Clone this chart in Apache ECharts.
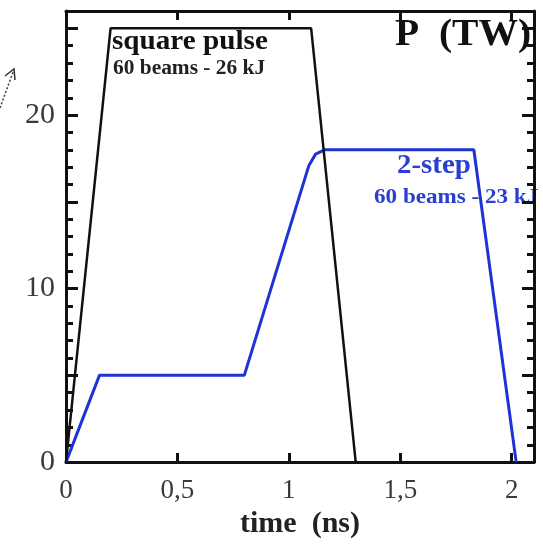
<!DOCTYPE html>
<html>
<head>
<meta charset="utf-8">
<script src="https://cdn.jsdelivr.net/npm/echarts@6/dist/echarts.min.js"></script>
<style>html,body{margin:0;padding:0;background:#fff;}#c{width:543px;height:544px;}</style>
</head>
<body>
<div id="c"></div>
<script>
// data
var squareT = [0, 0.2, 1.1, 1.3];
var squareP = [0, 25, 25, 0];
var twoStepT = [0, 0.15, 0.8, 1.09, 1.12, 1.16, 1.83, 2.02];
var twoStepP = [0, 5, 5, 17.1, 17.75, 18, 18, 0];
var xTickLabels = {0: '0', 0.5: '0,5', 1: '1', 1.5: '1,5', 2: '2'};
var yTickLabels = {0: '0', 10: '10', 20: '20'};

function pairs(xs, ys){ return xs.map(function(x,i){return [x, ys[i]];}); }

var serif = '"Liberation Serif", "DejaVu Serif", serif';
var chart = echarts.init(document.getElementById('c'));
function axisLine(){ return {show: true, onZero: false, lineStyle: {color: '#111', width: 3}}; }
var tickStyle = {color: '#111', width: 3};
chart.setOption({
  animation: false,
  backgroundColor: '#fff',
  grid: {left: 66, right: 9, top: 11, bottom: 81},
  xAxis: [{
    type: 'value', min: 0, max: 2.1, interval: 0.5, position: 'bottom',
    axisLine: axisLine(),
    axisTick: {inside: true, length: 9, lineStyle: tickStyle},
    splitLine: {show: false},
    axisLabel: {fontFamily: serif, fontSize: 27, color: '#3a3a3a', margin: 15, showMaxLabel: false,
      formatter: function(v){ var k = Math.round(v*10)/10; return xTickLabels[k] !== undefined ? xTickLabels[k] : ''; }},
    name: 'time  (ns)', nameLocation: 'middle', nameGap: 46,
    nameTextStyle: {fontFamily: serif, fontSize: 30, fontWeight: 'bold', color: '#222'}
  }, {
    type: 'value', min: 0, max: 2.1, interval: 0.5, position: 'top',
    axisLine: axisLine(),
    axisTick: {inside: true, length: 9, lineStyle: tickStyle},
    splitLine: {show: false}, axisLabel: {show: false}
  }],
  yAxis: [{
    type: 'value', min: 0, max: 26, interval: 5, position: 'left',
    axisLine: axisLine(),
    axisTick: {inside: true, length: 12, lineStyle: tickStyle},
    minorTick: {show: true, splitNumber: 5, length: 7, lineStyle: tickStyle},
    splitLine: {show: false},
    axisLabel: {fontFamily: serif, fontSize: 30, color: '#3a3a3a', margin: 11, padding: [0, 0, 10, 0],
      formatter: function(v){ return yTickLabels[v] !== undefined ? yTickLabels[v] : ''; }}
  }, {
    type: 'value', min: 0, max: 26, interval: 5, position: 'right',
    axisLine: axisLine(),
    axisTick: {inside: true, length: 12, lineStyle: tickStyle},
    minorTick: {show: true, splitNumber: 5, length: 7, lineStyle: tickStyle},
    splitLine: {show: false}, axisLabel: {show: false}
  }],
  series: [{
    name: 'square pulse', type: 'line', data: pairs(squareT, squareP),
    showSymbol: false, lineStyle: {color: '#111', width: 2.5}, z: 3
  }, {
    name: '2-step', type: 'line', data: pairs(twoStepT, twoStepP),
    showSymbol: false, lineStyle: {color: '#1e33d6', width: 3}, z: 2
  }],
  graphic: [
    {type: 'text', left: 112, top: 29, scaleX: 1.08, style: {text: 'square pulse', fontFamily: serif, fontSize: 27, fontWeight: 'bold', fill: '#111'}},
    {type: 'text', left: 113, top: 59, scaleX: 1.07, style: {text: '60 beams - 26 kJ', fontFamily: serif, fontSize: 20, fontWeight: 'bold', fill: '#222'}},
    {type: 'text', left: 395, top: 16, scaleX: 1.04, style: {text: 'P  (TW)', fontFamily: serif, fontSize: 38, fontWeight: 'bold', fill: '#111'}},
    {type: 'text', left: 397, top: 153, scaleX: 1.07, style: {text: '2-step', fontFamily: serif, fontSize: 27, fontWeight: 'bold', fill: '#2a3fd0'}},
    {type: 'text', left: 374, top: 187, scaleX: 1.1, style: {text: '60 beams - 23 kJ', fontFamily: serif, fontSize: 21, fontWeight: 'bold', fill: '#2a3fd0'}},
    {type: 'line', shape: {x1: 0, y1: 108, x2: 13, y2: 72}, style: {stroke: '#444', lineWidth: 1.5, lineDash: [2, 2]}},
    {type: 'polyline', shape: {points: [[5, 76], [14, 69], [15, 80]]}, style: {stroke: '#333', lineWidth: 1.5, fill: null}}
  ]
});
</script>
</body>
</html>
